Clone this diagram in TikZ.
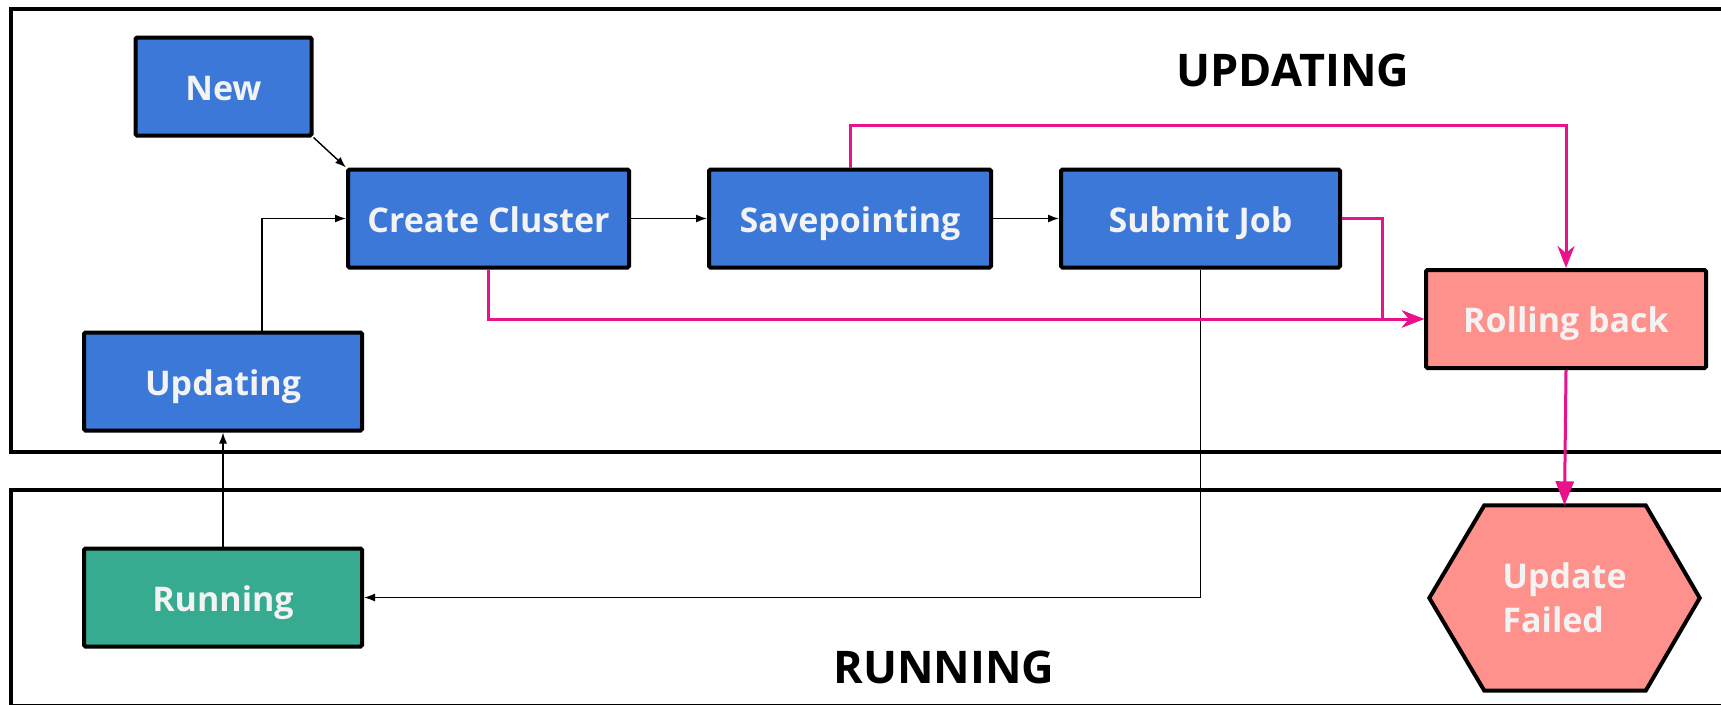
\documentclass[tikz,border=0pt]{standalone}
\usepackage{fontspec}
\setmainfont{Open Sans}
\usetikzlibrary{arrows.meta}
\definecolor{stateblue}{HTML}{3C78D8}
\definecolor{stategreen}{HTML}{36AB8F}
\definecolor{statered}{HTML}{FF918D}
\definecolor{failpink}{HTML}{E8128C}
\definecolor{labelwhite}{HTML}{F3F3F3}
\begin{document}
\begin{tikzpicture}[x=1pt,y=-1pt,
  frame/.style={draw=black, line width=3.5pt},
  state/.style={draw=black, line width=4pt, rounded corners=1.5pt,
    text=labelwhite, font=\fontsize{34}{44}\selectfont\bfseries,
    inner sep=0pt, text height=27pt, text depth=0pt, anchor=center},
  bluestate/.style={state, fill=stateblue},
  title/.style={font=\fontsize{45}{50}\selectfont\bfseries, text=black, anchor=center},
  link/.style={draw=black, line width=1.4pt, -{Latex[length=11pt,width=8pt]}},
  fail/.style={draw=failpink, line width=3pt, -{Stealth[length=22pt,width=17pt,inset=7pt]}},
  failtri/.style={draw=failpink, line width=3pt, -{Triangle[length=24pt,width=18pt]}}
]
\useasboundingbox (0,0) rectangle (1721,704);
\fill[white] (0,0) rectangle (1721,704);

% swimlane frames
\draw[frame] (11,9) rectangle (1745,452);
\draw[frame] (11,490) rectangle (1745,706);
\node[title] (lblupd) at (1293,70) {UPDATING};
\node[title] (lblrun) at (944,667) {RUNNING};

% states
\node[bluestate, minimum width=176pt, minimum height=98pt] (new) at (223.5,86.5) {New};
\node[bluestate, minimum width=281pt, minimum height=98pt] (create) at (488.5,218.5) {Create Cluster};
\node[bluestate, minimum width=282pt, minimum height=98pt] (save) at (850,218.5) {Savepointing};
\node[bluestate, minimum width=279pt, minimum height=98pt] (submit) at (1200.5,218.5) {Submit Job};
\node[state, fill=statered, minimum width=280pt, minimum height=98pt] (roll) at (1566,319) {Rolling back};
\node[bluestate, minimum width=278pt, minimum height=98pt] (updating) at (223,381.5) {Updating};
\node[state, fill=stategreen, minimum width=278pt, minimum height=98pt] (running) at (223,597.5) {Running};

% failed state: irregular hexagon drawn on the anchors of an empty frame node
\node[inner sep=0pt, minimum width=270pt, minimum height=185pt] (failed) at (1564.5,598) {};
\draw[line width=4pt, fill=statered, line join=miter]
  (failed.west) -- ([xshift=55pt]failed.north west) -- ([xshift=-54pt]failed.north east)
  -- (failed.east) -- ([xshift=-54pt]failed.south east) -- ([xshift=55pt]failed.south west) -- cycle;
\node[state, draw=none, align=left, yshift=-21pt] (failedtext) at (failed.center) {Update\\Failed};

% normal transitions
\draw[link] (new.south east) -- (create.north west);
\draw[link] ([xshift=39pt]updating.north) |- (create.west);
\draw[link] (running.north) -- (updating.south);
\draw[link] (create.east) -- (save.west);
\draw[link] (save.east) -- (submit.west);
\draw[link] (submit.south) |- (running.east);

% failure transitions
\coordinate (topline) at (0,125);
\coordinate (bendx) at (1382,0);
\draw[fail] (save.north) -- (save.north |- topline) -| (roll.north);
\draw[fail] (create.south) |- (roll.west);
\draw[fail] (submit.east) -| (bendx |- roll.west) -- (roll.west);
\draw[failtri] (roll.south) -- (failed.north);
\end{tikzpicture}
\end{document}
